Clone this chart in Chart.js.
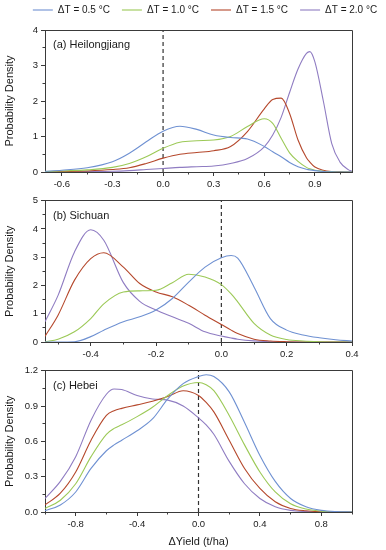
<!DOCTYPE html>
<html><head><meta charset="utf-8">
<script src="https://cdn.jsdelivr.net/npm/chart.js@4/dist/chart.umd.min.js"></script>
<style>
html,body{margin:0;padding:0;background:#fff;overflow:hidden;}
#wrap{position:relative;width:386px;height:550px;overflow:hidden;background:#fff;}
canvas{position:absolute;left:0;}
</style></head><body>
<div id="wrap">
<canvas id="c1" width="410" height="192" style="top:0px;width:410px;height:192px"></canvas>
<canvas id="c2" width="386" height="170" style="top:192px;width:386px;height:170px"></canvas>
<canvas id="c3" width="386" height="188" style="top:362px;width:386px;height:188px"></canvas>
</div>
<script>
const seriesLabels = ['ΔT = 0.5 °C', 'ΔT = 1.0 °C', 'ΔT = 1.5 °C', 'ΔT = 2.0 °C'];
const seriesColors = ['#6f91d2', '#9cc957', '#b5482c', '#8f7cc2'];

// (a) Heilongjiang
const xA   = [-0.7, -0.6, -0.45, -0.3, -0.2, -0.1, 0, 0.1, 0.2, 0.3, 0.4, 0.5, 0.6, 0.65, 0.7, 0.75, 0.8, 0.85, 0.87, 0.9, 0.95, 1.0, 1.05, 1.1, 1.12];
const a05  = [0.02, 0.05, 0.12, 0.29, 0.53, 0.85, 1.15, 1.29, 1.2, 1.04, 0.97, 0.93, 0.72, 0.57, 0.43, 0.27, 0.15, 0.08, 0.06, 0.04, 0.015, 0.005, 0, 0, 0];
const a10  = [0.01, 0.03, 0.06, 0.13, 0.24, 0.43, 0.67, 0.84, 0.88, 0.9, 1.0, 1.28, 1.5, 1.37, 0.95, 0.54, 0.3, 0.13, 0.09, 0.05, 0.02, 0.01, 0, 0, 0];
const a15  = [0.005, 0.01, 0.03, 0.07, 0.12, 0.24, 0.39, 0.5, 0.55, 0.6, 0.72, 1.14, 1.78, 2.04, 2.08, 1.65, 0.9, 0.4, 0.28, 0.14, 0.05, 0.015, 0.005, 0, 0];
const a20  = [0, 0, 0.01, 0.02, 0.04, 0.07, 0.1, 0.13, 0.15, 0.17, 0.24, 0.38, 0.71, 1.04, 1.54, 2.24, 2.9, 3.34, 3.39, 3.1, 2.0, 0.8, 0.27, 0.06, 0.02];
const xTicksA = [-0.6, -0.3, 0, 0.3, 0.6, 0.9];
const xMinorA = [-0.45, -0.15, 0.15, 0.45, 0.75, 1.05];
const yTicksA = [0, 1, 2, 3, 4];
const yMinorA = [0.5, 1.5, 2.5, 3.5];

// (b) Sichuan
const xB   = [-0.54, -0.5, -0.45, -0.4, -0.36, -0.3, -0.25, -0.2, -0.15, -0.1, -0.05, 0, 0.03, 0.05, 0.1, 0.15, 0.2, 0.25, 0.3, 0.35, 0.4];
const b05  = [0, 0, 0.01, 0.19, 0.42, 0.72, 0.89, 1.13, 1.54, 2.12, 2.65, 2.98, 3.06, 2.97, 1.95, 0.83, 0.42, 0.25, 0.15, 0.08, 0.035];
const b10  = [0.01, 0.1, 0.36, 0.83, 1.35, 1.77, 1.81, 1.83, 2.1, 2.4, 2.3, 2.03, 1.7, 1.42, 0.66, 0.25, 0.09, 0.035, 0.01, 0, 0];
const b15  = [0.2, 0.95, 2.18, 2.95, 3.16, 2.65, 2.07, 1.77, 1.6, 1.3, 0.95, 0.62, 0.42, 0.3, 0.1, 0.035, 0.01, 0, 0, 0, 0];
const b20  = [0.72, 1.65, 3.18, 3.97, 3.6, 2.1, 1.44, 1.13, 0.89, 0.66, 0.36, 0.21, 0.14, 0.1, 0.04, 0.01, 0, 0, 0, 0, 0];
const xTicksB = [-0.4, -0.2, 0, 0.2, 0.4];
const xMinorB = [-0.5, -0.3, -0.1, 0.1, 0.3];
const yTicksB = [0, 1, 2, 3, 4, 5];
const yMinorB = [0.5, 1.5, 2.5, 3.5, 4.5];

// (c) Hebei
const xC   = [-1.0, -0.9, -0.8, -0.7, -0.6, -0.55, -0.5, -0.4, -0.3, -0.2, -0.1, 0, 0.05, 0.1, 0.2, 0.3, 0.4, 0.5, 0.6, 0.7, 0.8, 0.9, 1.0];
const c05  = [0.011, 0.06, 0.17, 0.37, 0.52, 0.57, 0.61, 0.69, 0.79, 0.96, 1.09, 1.15, 1.165, 1.15, 1.02, 0.76, 0.48, 0.26, 0.115, 0.045, 0.014, 0.003, 0];
const c10  = [0.03, 0.1, 0.24, 0.47, 0.66, 0.71, 0.74, 0.81, 0.89, 0.99, 1.07, 1.1, 1.08, 1.03, 0.82, 0.57, 0.34, 0.17, 0.07, 0.025, 0.007, 0, 0];
const c15  = [0.06, 0.16, 0.34, 0.61, 0.82, 0.86, 0.88, 0.91, 0.94, 0.98, 1.03, 0.99, 0.93, 0.85, 0.61, 0.37, 0.2, 0.087, 0.03, 0.01, 0.002, 0, 0];
const c20  = [0.115, 0.26, 0.47, 0.78, 1.0, 1.045, 1.04, 0.99, 0.96, 0.95, 0.9, 0.8, 0.74, 0.66, 0.43, 0.24, 0.115, 0.045, 0.014, 0.003, 0, 0, 0];
const xTicksC = [-0.8, -0.4, 0, 0.4, 0.8];
const xMinorC = [-1.0, -0.6, -0.2, 0.2, 0.6, 1.0];
const yTicksC = [0, 0.3, 0.6, 0.9, 1.2];
const yMinorC = [0.15, 0.45, 0.75, 1.05];

const FONT = '"Liberation Sans", Arial, sans-serif';
const TEXT = '#1a1a1a';
const AXIS = '#3a3a3a';

const decor = {
  id: 'decor',
  afterDraw(chart, args, o) {
    const {ctx, chartArea: a, scales: {x, y}} = chart;
    const al = v => Math.round(v - 0.5) + 0.5;
    ctx.save();
    ctx.strokeStyle = AXIS; ctx.lineWidth = 1;
    ctx.beginPath();
    ctx.moveTo(al(a.left), al(a.top)); ctx.lineTo(al(a.right), al(a.top));
    ctx.lineTo(al(a.right), al(a.bottom));
    ctx.stroke();
    ctx.beginPath();
    o.xMinor.forEach(v => { const p = al(x.getPixelForValue(v)); ctx.moveTo(p, a.bottom); ctx.lineTo(p, a.bottom + 2.5); });
    o.yMinor.forEach(v => { const p = al(y.getPixelForValue(v)); ctx.moveTo(a.left, p); ctx.lineTo(a.left - 2.5, p); });
    ctx.stroke();
    ctx.fillStyle = TEXT;
    ctx.font = '11px ' + FONT;
    ctx.textBaseline = 'middle'; ctx.textAlign = 'left';
    ctx.fillText(o.label, a.left + 8, a.top + 15);
    ctx.restore();
  }
};

function makePanel(id, p) {
  const datasets = p.ys.map((ys, i) => ({
    label: seriesLabels[i],
    data: p.xs.map((xv, j) => ({x: xv, y: ys[j]})),
    borderColor: seriesColors[i],
    backgroundColor: seriesColors[i],
    borderWidth: 1.1,
    pointRadius: 0,
    cubicInterpolationMode: 'monotone',
    fill: false
  }));
  datasets.push({
    label: 'zero',
    data: [{x: 0, y: 0}, {x: 0, y: p.yMax}],
    borderColor: '#333',
    borderWidth: 1.2,
    borderDash: [4, 3],
    pointRadius: 0,
    tension: 0,
    fill: false
  });
  const scales = {
    x: {
      type: 'linear', position: 'bottom', min: p.xMin, max: p.xMax,
      afterBuildTicks: s => { s.ticks = p.xTicks.map(v => ({value: v})); },
      afterFit: s => { s.height = p.xH; },
      ticks: {autoSkip: false, maxRotation: 0, padding: 3, color: TEXT, font: {size: 9.5, family: FONT},
        callback: v => Number(v).toFixed(p.xDec)},
      grid: {drawOnChartArea: false, tickLength: 4, color: AXIS, tickColor: AXIS},
      border: {color: AXIS, width: 1},
      title: {display: !!p.xTitle, text: p.xTitle || '', color: TEXT, font: {size: 11, family: FONT}, padding: {top: 0, bottom: 1}}
    },
    y: {
      type: 'linear', position: 'left', min: 0, max: p.yMax,
      afterBuildTicks: s => { s.ticks = p.yTicks.map(v => ({value: v})); },
      afterFit: s => { s.width = 45; },
      ticks: {autoSkip: false, padding: 3, color: TEXT, font: {size: 9.5, family: FONT},
        callback: v => Number(v).toFixed(p.yDec)},
      grid: {drawOnChartArea: false, tickLength: 4, color: AXIS, tickColor: AXIS},
      border: {color: AXIS, width: 1},
      title: {display: true, text: 'Probability Density', color: TEXT, font: {size: 11, family: FONT}, padding: {top: 3, bottom: 0}}
    }
  };
  if (p.legend) {
    scales.xTop = {type: 'linear', position: 'top', display: true, grid: {display: false, drawTicks: false}, border: {display: false}, ticks: {display: false}, afterFit: s => { s.height = 5; }};
    scales.yRight = {type: 'linear', position: 'right', display: true, grid: {display: false, drawTicks: false}, border: {display: false}, ticks: {display: false}, afterFit: s => { s.width = p.rightW; }};
  }
  return new Chart(document.getElementById(id), {
    type: 'line',
    data: {datasets},
    options: {
      responsive: false, animation: false, devicePixelRatio: 1, events: [],
      layout: {padding: p.padding},
      scales,
      plugins: {
        legend: p.legend ? {
          display: true, position: 'top',
          labels: {usePointStyle: true, pointStyle: 'line', pointStyleWidth: 20, padding: 12, color: TEXT,
            font: {size: 10, family: FONT}, filter: item => item.datasetIndex < 4}
        } : {display: false},
        tooltip: {enabled: false},
        decor: {label: p.label, xMinor: p.xMinor, yMinor: p.yMinor}
      }
    },
    plugins: [decor]
  });
}

makePanel('c1', {xs: xA, ys: [a05, a10, a15, a20], xMin: -0.7, xMax: 1.12, yMax: 4,
  xTicks: xTicksA, xMinor: xMinorA, yTicks: yTicksA, yMinor: yMinorA, xDec: 1, yDec: 0,
  label: '(a) Heilongjiang', legend: true, rightW: 58, xH: 20,
  padding: {top: -7, left: 0, right: 0, bottom: 0}});
makePanel('c2', {xs: xB, ys: [b05, b10, b15, b20], xMin: -0.54, xMax: 0.4, yMax: 5,
  xTicks: xTicksB, xMinor: xMinorB, yTicks: yTicksB, yMinor: yMinorB, xDec: 1, yDec: 0,
  label: '(b) Sichuan', legend: false, xH: 20,
  padding: {top: 7, left: 0, right: 34, bottom: 0}});
makePanel('c3', {xs: xC, ys: [c05, c10, c15, c20], xMin: -1.0, xMax: 1.0, yMax: 1.2,
  xTicks: xTicksC, xMinor: xMinorC, yTicks: yTicksC, yMinor: yMinorC, xDec: 1, yDec: 1,
  label: '(c) Hebei', legend: false, xH: 38, xTitle: 'ΔYield (t/ha)',
  padding: {top: 8, left: 0, right: 34, bottom: 0}});
</script>
</body></html>
